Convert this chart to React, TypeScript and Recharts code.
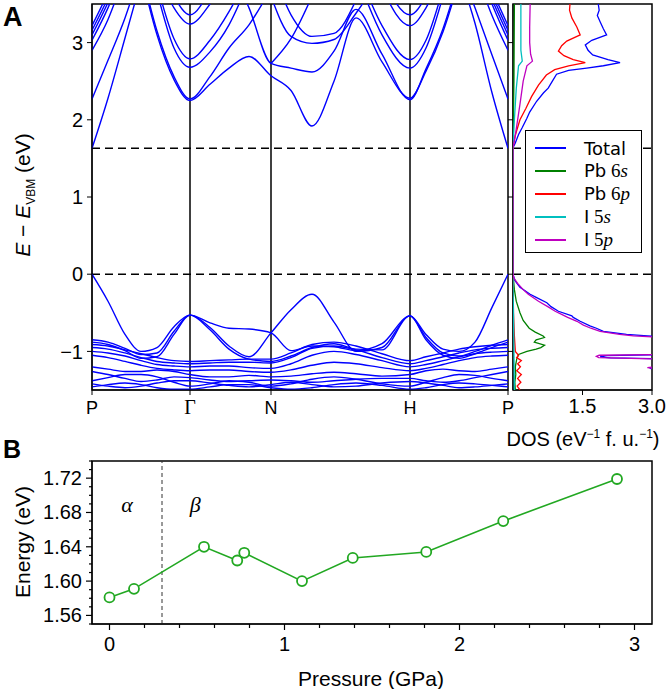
import React from "react"
import {
  LineChart,
  Line,
  ScatterChart,
  Scatter,
  XAxis,
  YAxis,
  ReferenceLine,
  ReferenceArea,
  ReferenceDot,
} from "recharts"

const _ = null

// ---------- Panel A: band structure ----------
const kGrid = [0, 16, 33, 49, 65, 82, 98, 118, 137, 157, 179, 199, 220, 242, 264, 290, 318, 334, 351, 367, 383, 400, 416]
const kTicks = [0, 98, 179, 318, 416]
const kLabels = ["P", "Γ", "N", "H", "P"]
const energyTicks = [-1, 0, 1, 2, 3]
const gapEdges = [0, 1.63]

const valenceBands: (number | null)[][] = [
  [0, -0.35, -0.78, -1.0, -0.95, -0.68, -0.53, -0.63, -0.7, -0.71, -0.76, -0.99, -0.93, -0.94, -0.99, -0.9, -0.54, -0.78, -0.97, -1.0, -0.88, -0.43, 0],
  [-0.85, -0.88, -0.96, -1.04, -1.02, -0.74, -0.53, -0.69, -0.93, -1.07, -0.76, -0.46, -0.26, -0.62, -1.0, -0.95, -0.54, -0.82, -1.02, -1.06, -1.0, -0.92, -0.85],
  [-0.88, -0.91, -0.99, -1.09, -1.07, -0.78, -0.53, -0.72, -0.97, -1.1, -1.13, -1.06, -0.95, -0.9, -0.97, -0.98, -0.54, -0.85, -1.05, -1.09, -1.03, -0.95, -0.88],
  [-0.91, -0.93, -0.98, -1.03, -1.08, -1.12, -1.13, -1.12, -1.11, -1.1, -1.1, -1.02, -0.91, -0.88, -0.93, -1.03, -1.12, -1.07, -1.02, -0.97, -0.94, -0.92, -0.91],
  [-0.95, -0.97, -1.02, -1.08, -1.13, -1.15, -1.16, -1.15, -1.14, -1.14, -1.15, -1.08, -0.96, -0.93, -0.98, -1.08, -1.16, -1.12, -1.07, -1.02, -0.98, -0.96, -0.95],
  [-1.0, -1.02, -1.06, -1.12, -1.17, -1.19, -1.2, -1.19, -1.19, -1.21, -1.22, -1.16, -1.05, -1.0, -1.04, -1.12, -1.2, -1.17, -1.12, -1.07, -1.03, -1.01, -1.0],
  [-1.05, -1.08, -1.13, -1.18, -1.22, -1.24, -1.25, -1.24, -1.24, -1.26, -1.27, -1.24, -1.18, -1.14, -1.16, -1.21, -1.25, -1.22, -1.17, -1.12, -1.08, -1.06, -1.05],
  [-1.2, -1.23, -1.26, -1.26, -1.24, -1.26, -1.3, -1.33, -1.33, -1.31, -1.33, -1.32, -1.29, -1.27, -1.29, -1.32, -1.3, -1.25, -1.23, -1.25, -1.26, -1.23, -1.2],
  [-1.26, -1.3, -1.35, -1.39, -1.37, -1.33, -1.34, -1.37, -1.39, -1.38, -1.37, -1.38, -1.4, -1.38, -1.36, -1.35, -1.35, -1.38, -1.4, -1.38, -1.34, -1.3, -1.26],
  [-1.38, -1.34, -1.3, -1.3, -1.33, -1.4, -1.45, -1.42, -1.38, -1.4, -1.45, -1.42, -1.36, -1.33, -1.36, -1.42, -1.45, -1.4, -1.34, -1.3, -1.31, -1.35, -1.38],
  [-1.42, -1.45, -1.47, -1.45, -1.41, -1.38, -1.38, -1.41, -1.44, -1.46, -1.43, -1.4, -1.43, -1.46, -1.45, -1.41, -1.39, -1.41, -1.44, -1.47, -1.46, -1.44, -1.42],
  [-1.46, -1.43, -1.41, -1.43, -1.47, -1.49, -1.49, -1.46, -1.43, -1.43, -1.47, -1.49, -1.47, -1.43, -1.41, -1.44, -1.49, -1.47, -1.43, -1.41, -1.42, -1.44, -1.46],
]

const conductionBands: (number | null)[][] = [
  // rising from P (left)
  [1.63, 2.28, 3.06, 3.8, _, _, _, _, _, _, _, _, _, _, _, _, _, _, _, _, _, _, _],
  [2.27, 2.77, 3.32, 3.95, _, _, _, _, _, _, _, _, _, _, _, _, _, _, _, _, _, _, _],
  [2.9, 3.3, 3.9, _, _, _, _, _, _, _, _, _, _, _, _, _, _, _, _, _, _, _, _],
  [3.03, 3.45, 4.0, _, _, _, _, _, _, _, _, _, _, _, _, _, _, _, _, _, _, _, _],
  [3.1, 3.52, 4.05, _, _, _, _, _, _, _, _, _, _, _, _, _, _, _, _, _, _, _, _],
  [3.16, 3.58, 4.1, _, _, _, _, _, _, _, _, _, _, _, _, _, _, _, _, _, _, _, _],
  [3.22, 3.65, 4.2, _, _, _, _, _, _, _, _, _, _, _, _, _, _, _, _, _, _, _, _],
  // rising from P (right)
  [_, _, _, _, _, _, _, _, _, _, _, _, _, _, _, _, _, _, _, 3.9, 3.25, 2.35, 1.63],
  [_, _, _, _, _, _, _, _, _, _, _, _, _, _, _, _, _, _, _, 4.0, 3.45, 2.84, 2.27],
  [_, _, _, _, _, _, _, _, _, _, _, _, _, _, _, _, _, _, _, _, 3.95, 3.35, 2.9],
  [_, _, _, _, _, _, _, _, _, _, _, _, _, _, _, _, _, _, _, _, 4.1, 3.5, 3.03],
  [_, _, _, _, _, _, _, _, _, _, _, _, _, _, _, _, _, _, _, _, 4.1, 3.56, 3.1],
  [_, _, _, _, _, _, _, _, _, _, _, _, _, _, _, _, _, _, _, _, 4.15, 3.62, 3.16],
  [_, _, _, _, _, _, _, _, _, _, _, _, _, _, _, _, _, _, _, _, 4.2, 3.68, 3.22],
  // Γ valleys and the N–H branches
  [_, _, _, 3.9, 3.1, 2.52, 2.25, 2.46, 2.67, 2.82, 2.57, 2.38, 1.92, 2.5, 3.32, 2.75, 2.28, 2.63, 3.14, 3.8, _, _, _],
  [_, _, _, 3.95, 3.15, 2.56, 2.27, 2.56, 2.93, 3.23, 3.7, _, _, _, _, _, _, _, _, _, _, _, _],
  [_, _, _, _, _, _, _, _, 4.0, 3.45, 2.73, 2.67, 2.62, 2.89, 3.43, 2.85, 2.26, 2.66, 3.18, 3.85, _, _, _],
  [_, _, _, _, _, _, _, _, _, _, 2.73, 3.05, 3.6, _, _, _, _, _, _, _, _, _, _],
  [_, _, _, _, 3.66, 2.93, 2.68, 2.88, 3.23, 3.8, _, _, _, _, _, _, _, _, _, _, _, _, _],
  [_, _, _, _, 3.75, 3.05, 2.79, 3.03, 3.4, 3.9, _, _, _, _, _, _, _, _, _, _, _, _, _],
  [_, _, _, _, 3.95, 3.45, 3.24, 3.5, 3.9, _, _, _, _, _, _, _, _, _, _, _, _, _, _],
  [_, _, _, _, _, 3.6, 3.36, 3.7, _, _, _, _, _, _, _, _, _, _, _, _, _, _, _],
  [_, _, _, _, _, _, _, _, _, _, 4.0, 3.36, 3.08, 3.12, 3.55, _, _, _, _, _, _, _, _],
  [_, _, _, _, _, _, _, _, _, _, 3.6, 3.08, 2.99, 3.04, 3.38, 3.9, _, _, _, _, _, _, _],
  // H valleys
  [_, _, _, _, _, _, _, _, _, _, _, _, _, _, 3.9, 3.1, 2.67, 2.93, 3.6, _, _, _, _],
  [_, _, _, _, _, _, _, _, _, _, _, _, _, _, 4.0, 3.22, 2.78, 3.03, 3.7, _, _, _, _],
  [_, _, _, _, _, _, _, _, _, _, _, _, _, _, _, 3.7, 3.22, 3.45, 3.95, _, _, _, _],
  [_, _, _, _, _, _, _, _, _, _, _, _, _, _, _, 3.85, 3.36, 3.6, _, _, _, _, _],
]

// ---------- Panel A: DOS, [energy, states] ----------
const dosTicks = [1.5, 3.0]

const dosTotal = [
  [-1.5, 3.5], [-1.25, 3.4], [-1.22, 2.95], [-1.2, 3.4], [-1.1, 3.5], [-1.085, 2.1], [-1.07, 1.88], [-1.055, 2.0],
  [-1.04, 3.3], [-1.0, 3.6], [-0.9, 3.8], [-0.82, 3.4], [-0.8, 2.9], [-0.78, 2.45], [-0.74, 1.95], [-0.7, 1.8],
  [-0.67, 1.66], [-0.61, 1.45], [-0.56, 1.3], [-0.54, 1.27], [-0.48, 0.98], [-0.42, 0.82], [-0.37, 0.73],
  [-0.3, 0.5], [-0.26, 0.37], [-0.17, 0.15], [-0.08, 0.04], [0, 0], [1.64, 0], [1.7, 0.05], [1.81, 0.12],
  [1.9, 0.2], [2.02, 0.3], [2.1, 0.36], [2.24, 0.51], [2.35, 0.66], [2.41, 0.76], [2.5, 0.85], [2.59, 0.94],
  [2.64, 1.2], [2.67, 1.59], [2.7, 1.95], [2.74, 2.31], [2.78, 2.05], [2.84, 1.72], [2.9, 1.62], [2.97, 1.56],
  [3.03, 1.7], [3.1, 2.02], [3.18, 1.95], [3.27, 1.88], [3.35, 1.82], [3.42, 1.86], [3.5, 1.84],
]
const dosPb6s = [
  [-1.5, 0.05], [-1.4, 0.04], [-1.3, 0.06], [-1.2, 0.05], [-1.1, 0.08], [-1.04, 0.12], [-1.0, 0.3], [-0.97, 0.5],
  [-0.95, 0.6], [-0.92, 0.68], [-0.88, 0.46], [-0.85, 0.5], [-0.82, 0.68], [-0.8, 0.65], [-0.75, 0.48],
  [-0.7, 0.35], [-0.6, 0.22], [-0.5, 0.15], [-0.35, 0.07], [-0.2, 0.03], [0, 0], [1.64, 0], [2.5, 0.02], [3.5, 0.03],
]
const dosPb6p = [
  [-1.5, 0.15], [-1.45, 0.09], [-1.4, 0.17], [-1.35, 0.1], [-1.3, 0.18], [-1.25, 0.08], [-1.2, 0.16], [-1.16, 0.1],
  [-1.12, 0.18], [-1.08, 0.08], [-1.05, 0.12], [-1.0, 0.05], [-0.8, 0.03], [-0.5, 0.01], [0, 0], [1.64, 0],
  [1.8, 0.05], [2.0, 0.15], [2.15, 0.28], [2.3, 0.4], [2.45, 0.55], [2.58, 0.72], [2.65, 0.9], [2.7, 1.2],
  [2.74, 1.56], [2.78, 1.3], [2.83, 1.1], [2.89, 0.98], [2.96, 1.05], [3.02, 1.16], [3.1, 1.45], [3.2, 1.38],
  [3.32, 1.27], [3.42, 1.22], [3.5, 1.23],
]
const dosI5s = [
  [-1.5, 0.03], [-1.0, 0.02], [-0.5, 0.01], [0, 0], [1.64, 0], [2.0, 0.03], [2.4, 0.07], [2.7, 0.12],
  [2.76, 0.2], [2.9, 0.17], [3.2, 0.17], [3.5, 0.17],
]
const dosI5p = [
  [-1.5, 3.3], [-1.23, 3.2], [-1.21, 2.9], [-1.19, 3.2], [-1.1, 3.3], [-1.08, 1.85], [-1.065, 1.8], [-1.05, 1.86],
  [-1.04, 3.2], [-0.82, 3.3], [-0.8, 2.6], [-0.78, 2.3], [-0.74, 1.88], [-0.7, 1.68], [-0.66, 1.52],
  [-0.61, 1.38], [-0.56, 1.18], [-0.52, 1.05], [-0.48, 0.91], [-0.42, 0.75], [-0.35, 0.55], [-0.26, 0.33],
  [-0.2, 0.22], [-0.12, 0.1], [-0.05, 0.02], [0, 0], [1.64, 0], [1.8, 0.05], [2.0, 0.1], [2.2, 0.15],
  [2.5, 0.22], [2.7, 0.3], [2.76, 0.42], [2.85, 0.38], [3.0, 0.36], [3.2, 0.36], [3.5, 0.37],
]

const dosSeries = [
  { name: "Total", orbital: "", color: "#0000ff", points: dosTotal },
  { name: "Pb", orbital: "6s", color: "#008000", points: dosPb6s },
  { name: "Pb", orbital: "6p", color: "#ff0000", points: dosPb6p },
  { name: "I", orbital: "5s", color: "#00bfbf", points: dosI5s },
  { name: "I", orbital: "5p", color: "#bf00bf", points: dosI5p },
]

// ---------- Panel B: gap vs pressure ----------
const pressure = [0, 0.14, 0.54, 0.73, 0.77, 1.1, 1.39, 1.81, 2.25, 2.9]
const gapEnergy = [1.581, 1.591, 1.64, 1.624, 1.633, 1.6, 1.627, 1.634, 1.67, 1.719]
const pressureTicks = [0, 1, 2, 3]
const pressureMinorTicks = [0.2, 0.4, 0.6, 0.8, 1.2, 1.4, 1.6, 1.8, 2.2, 2.4, 2.6, 2.8]
const energyBTicks = [1.56, 1.6, 1.64, 1.68, 1.72]
const energyBMinorTicks = [1.55, 1.57, 1.58, 1.59, 1.61, 1.62, 1.63, 1.65, 1.66, 1.67, 1.69, 1.7, 1.71, 1.73, 1.74]
const phaseBoundary = 0.3
const phases = [
  { label: "α", p: 0.1 },
  { label: "β", p: 0.49 },
]

const allBands = [...valenceBands, ...conductionBands]
const bandRows = kGrid.map((k, i) => {
  const row: Record<string, number | null> = { k }
  allBands.forEach((band, j) => {
    row["b" + j] = band[i]
  })
  return row
})

const pressureRows = pressure.map((p, i) => ({ p, e: gapEnergy[i] }))
const allPressureTicks = [...pressureTicks, ...pressureMinorTicks].sort((a, b) => a - b)
const allEnergyBTicks = [...energyBTicks, ...energyBMinorTicks].sort((a, b) => a - b)

const GREEN = "#22a822"
const serif = "'Liberation Serif', 'DejaVu Serif', serif"

function BandTick({ x, y, payload }: any) {
  const label = kLabels[kTicks.indexOf(payload.value)]
  const isGreek = label === "Γ"
  return (
    <text
      x={x}
      y={y + 15}
      textAnchor="middle"
      fill="#000"
      fontSize={isGreek ? 20 : 18}
      fontFamily={isGreek ? serif : undefined}
    >
      {label}
    </text>
  )
}

const NoLabel = () => <g />

// major ticks get a label and a longer mark, minor ones a short mark only
function PressureTick({ x, y, payload }: any) {
  const major = pressureTicks.includes(payload.value)
  return (
    <g>
      <line x1={x} x2={x} y1={y} y2={y + (major ? 6 : 4)} stroke="#000" strokeWidth={1.2} />
      {major && (
        <text x={x} y={y + 27} textAnchor="middle" fill="#000" fontSize={20}>
          {payload.value}
        </text>
      )}
    </g>
  )
}

function EnergyBTick({ x, y, payload }: any) {
  const major = energyBTicks.includes(payload.value)
  return (
    <g>
      <line x1={x - (major ? 6 : 3)} x2={x} y1={y} y2={y} stroke="#000" strokeWidth={1.2} />
      {major && (
        <text x={x - 10} y={y + 7} textAnchor="end" fill="#000" fontSize={20}>
          {payload.value.toFixed(2)}
        </text>
      )}
    </g>
  )
}

function BandChart() {
  return (
    <LineChart width={522} height={430} data={bandRows} margin={{ top: 4, right: 14, bottom: 0, left: 0 }}>
      <XAxis
        dataKey="k"
        type="number"
        domain={[0, 416]}
        ticks={kTicks}
        interval={0}
        allowDataOverflow
        tickSize={5}
        tickMargin={4}
        height={40}
        stroke="#000"
        tick={<BandTick />}
      />
      <YAxis
        type="number"
        domain={[-1.5, 3.5]}
        ticks={energyTicks}
        allowDataOverflow
        width={92}
        tickSize={5}
        tickMargin={4}
        stroke="#000"
        tick={{ fill: "#000", fontSize: 20 }}
        tickFormatter={(v) => (v < 0 ? `−${-v}` : `${v}`)}
      />
      {kTicks.slice(1, 4).map((k) => (
        <ReferenceLine key={"k" + k} x={k} stroke="#000" strokeWidth={1.5} />
      ))}
      {gapEdges.map((e) => (
        <ReferenceLine key={"g" + e} y={e} stroke="#000" strokeWidth={1.5} strokeDasharray="8 5" />
      ))}
      {allBands.map((band, j) => (
        <Line
          key={"b" + j}
          dataKey={"b" + j}
          type="monotone"
          stroke="#0000ff"
          strokeWidth={1.4}
          dot={false}
          activeDot={false}
          connectNulls={false}
          isAnimationActive={false}
        />
      ))}
      <ReferenceArea x1={0} x2={416} y1={-1.5} y2={3.5} fill="none" stroke="#000" strokeWidth={1.5} />
    </LineChart>
  )
}

function DosChart() {
  return (
    <ScatterChart width={158} height={450} margin={{ top: 4, right: 14, bottom: 20, left: 0 }}>
      <XAxis
        dataKey="d"
        type="number"
        domain={[0, 3]}
        ticks={dosTicks}
        interval={0}
        allowDataOverflow
        tickFormatter={(v) => v.toFixed(1)}
        tickSize={5}
        tickMargin={4}
        height={40}
        stroke="#000"
        tick={{ fill: "#000", fontSize: 20 }}
      />
      <YAxis
        dataKey="e"
        type="number"
        domain={[-1.5, 3.5]}
        ticks={energyTicks}
        allowDataOverflow
        width={5}
        tickSize={5}
        tick={NoLabel}
        stroke="#000"
      />
      {gapEdges.map((e) => (
        <ReferenceLine key={"g" + e} y={e} stroke="#000" strokeWidth={1.5} strokeDasharray="8 5" />
      ))}
      {dosSeries.map((s) => (
        <Scatter
          key={s.name + s.orbital}
          data={s.points.map(([e, d]) => ({ e, d }))}
          line={{ stroke: s.color, strokeWidth: 1.3 }}
          lineJointType="linear"
          shape={() => <g />}
          fill={s.color}
          legendType="none"
          isAnimationActive={false}
        />
      ))}
      <ReferenceArea x1={0} x2={3} y1={-1.5} y2={3.5} fill="none" stroke="#000" strokeWidth={1.5} />
    </ScatterChart>
  )
}

function DosLegend() {
  return (
    <div
      style={{
        position: "absolute",
        left: 525,
        top: 130,
        width: 115,
        height: 121,
        border: "1.5px solid #000",
        background: "#fff",
        fontFamily: "'DejaVu Sans', sans-serif",
        fontSize: 18,
      }}
    >
      {dosSeries.map((s, i) => (
        <div
          key={s.name + s.orbital}
          style={{ position: "absolute", left: 9, top: 6 + i * 23, height: 22, display: "flex", alignItems: "center" }}
        >
          <div style={{ width: 31, height: 0, borderTop: `2px solid ${s.color}` }} />
          <div style={{ marginLeft: 18, whiteSpace: "nowrap" }}>
            {s.name}
            {s.orbital && (
              <span style={{ fontFamily: serif, fontSize: 19 }}>
                {" "}
                {s.orbital[0]}
                <i>{s.orbital.slice(1)}</i>
              </span>
            )}
          </div>
        </div>
      ))}
    </div>
  )
}

function PressureChart() {
  return (
    <LineChart width={666} height={249} data={pressureRows} margin={{ top: 21, right: 14, bottom: 0, left: 0 }}>
      <XAxis
        dataKey="p"
        type="number"
        domain={[-0.1, 3.1]}
        ticks={allPressureTicks}
        interval={0}
        allowDataOverflow
        tickLine={false}
        tickSize={0}
        tickMargin={0}
        height={65}
        stroke="#000"
        tick={<PressureTick />}
      />
      <YAxis
        type="number"
        domain={[1.55, 1.74]}
        ticks={allEnergyBTicks}
        interval={0}
        allowDataOverflow
        tickLine={false}
        tickSize={0}
        tickMargin={0}
        width={92}
        stroke="#000"
        tick={<EnergyBTick />}
      />
      <ReferenceLine x={phaseBoundary} stroke="#333" strokeWidth={1} strokeDasharray="4 3" />
      {phases.map((ph) => (
        <ReferenceDot
          key={ph.label}
          x={ph.p}
          y={1.69}
          r={0}
          fill="none"
          stroke="none"
          label={{ value: ph.label, position: "center", fill: "#000", fontSize: 22, fontStyle: "italic", fontFamily: serif }}
        />
      ))}
      <Line
        dataKey="e"
        type="linear"
        stroke={GREEN}
        strokeWidth={1.6}
        dot={{ r: 5, stroke: GREEN, strokeWidth: 1.8, fill: "#fff" }}
        activeDot={false}
        isAnimationActive={false}
      />
      <ReferenceArea x1={-0.1} x2={3.1} y1={1.55} y2={1.74} fill="none" stroke="#000" strokeWidth={1.5} />
    </LineChart>
  )
}

export default function App() {
  return (
    <div
      style={{
        position: "absolute",
        left: 0,
        top: 0,
        width: 666,
        height: 689,
        background: "#fff",
        overflow: "hidden",
        fontFamily: "'Liberation Sans', Arial, sans-serif",
      }}
    >
      <div style={{ position: "absolute", left: 0, top: 0 }}>
        <BandChart />
      </div>
      <div style={{ position: "absolute", left: 508, top: 0 }}>
        <DosChart />
      </div>
      <DosLegend />
      <div style={{ position: "absolute", left: 0, top: 440 }}>
        <PressureChart />
      </div>
      <svg width={666} height={689} style={{ position: "absolute", left: 0, top: 0, pointerEvents: "none" }}>
        <text x={3} y={26} fontSize={27} fontWeight="bold" fill="#000">A</text>
        <text x={3} y={458} fontSize={25} fontWeight="bold" fill="#000">B</text>
        <text transform="rotate(-90 30 195)" x={30} y={195} textAnchor="middle" fontSize={21} fill="#000">
          <tspan fontStyle="italic">E</tspan>
          <tspan> − </tspan>
          <tspan fontStyle="italic">E</tspan>
          <tspan fontSize={12} dy={5}>VBM</tspan>
          <tspan dy={-5}> (eV)</tspan>
        </text>
        <text transform="rotate(-90 30 542)" x={30} y={542} textAnchor="middle" fontSize={21} fill="#000">
          Energy (eV)
        </text>
        <text x={583} y={446} textAnchor="middle" fontSize={20} fill="#000">
          DOS (eV
          <tspan fontSize={12} dy={-8}>−1</tspan>
          <tspan dy={8}> f. u.</tspan>
          <tspan fontSize={12} dy={-8}>−1</tspan>
          <tspan dy={8}>)</tspan>
        </text>
        <text x={371} y={686} textAnchor="middle" fontSize={21} fill="#000">
          Pressure (GPa)
        </text>
      </svg>
    </div>
  )
}
